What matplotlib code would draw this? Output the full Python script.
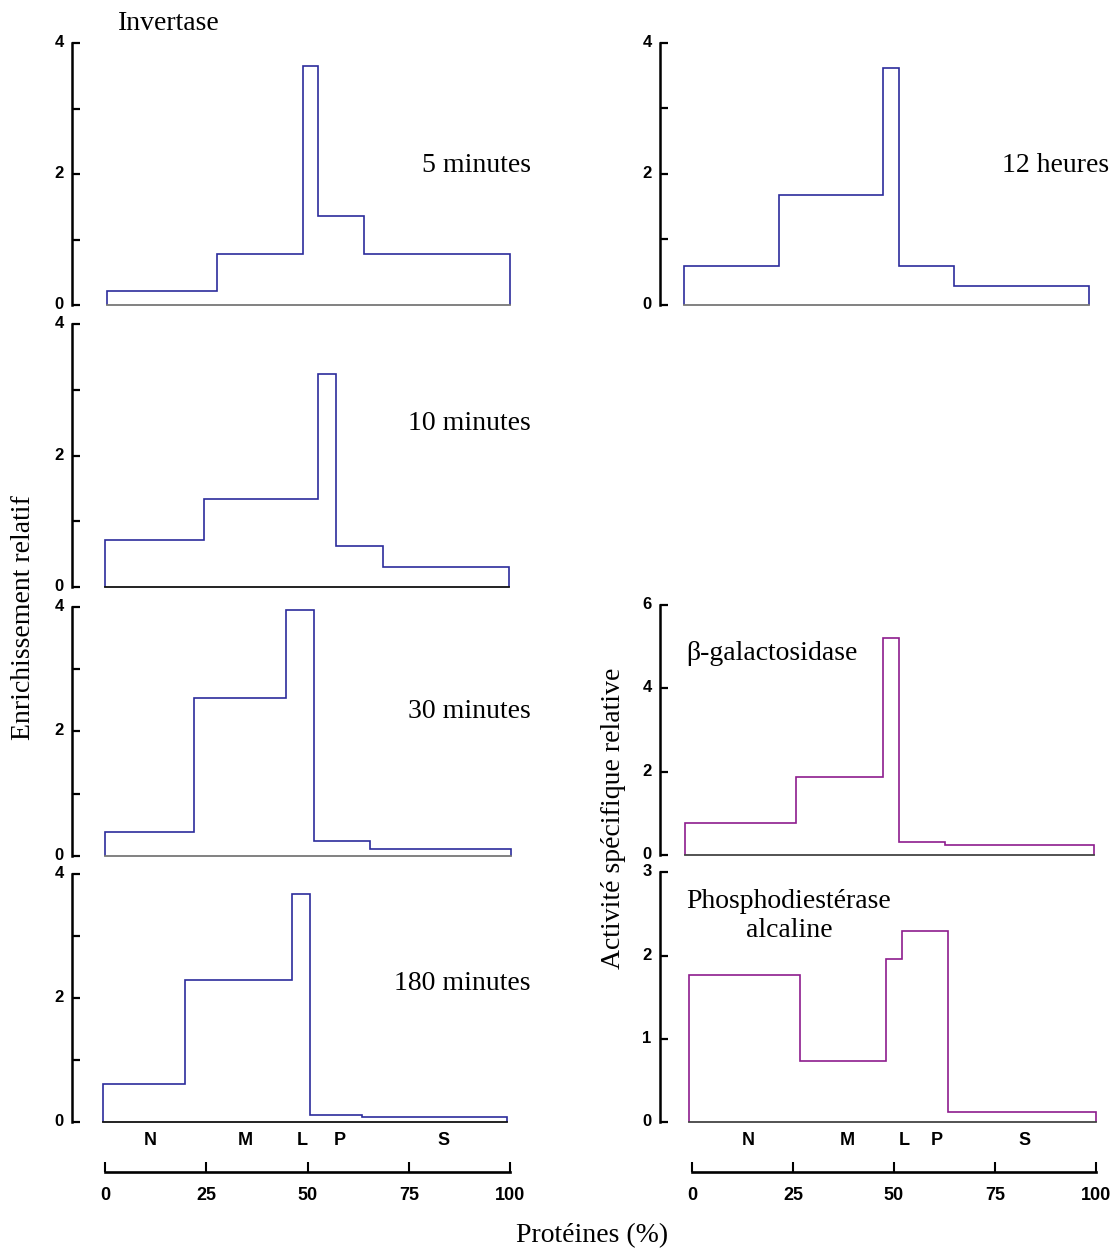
import matplotlib
matplotlib.use('Agg')
import matplotlib.pyplot as plt
from matplotlib.transforms import ScaledTranslation

W, H = 1117, 1249

# invertase, left column (edges in % protein, values = relative enrichment)
edges_5min = [0.5, 27.7, 48.9, 52.6, 63.9, 100]
vals_5min = [0.22, 0.78, 3.65, 1.36, 0.78]
edges_10min = [0, 24.4, 52.6, 57.0, 68.6, 99.8]
vals_10min = [0.71, 1.34, 3.24, 0.62, 0.30]
edges_30min = [0, 22.0, 44.7, 51.6, 65.4, 100.2]
vals_30min = [0.38, 2.54, 3.95, 0.24, 0.10]
edges_180min = [-0.5, 19.8, 46.2, 50.6, 63.5, 99.3]
vals_180min = [0.61, 2.29, 3.68, 0.11, 0.085]

# right column
edges_12h = [-2.0, 21.5, 47.3, 51.2, 64.9, 98.3]
vals_12h = [0.59, 1.68, 3.61, 0.59, 0.29]
edges_bgal = [-1.7, 25.7, 47.3, 51.2, 62.6, 99.5]
vals_bgal = [0.77, 1.88, 5.20, 0.30, 0.24]
edges_pde = [-0.7, 26.7, 48.0, 52.0, 63.4, 100]
vals_pde = [1.77, 0.73, 1.96, 2.29, 0.12]

fractions = ['N', 'M', 'L', 'P', 'S']
frac_pos_left = [11.1, 34.6, 48.6, 58.0, 83.7]
frac_pos_right = [13.9, 38.4, 52.5, 60.6, 82.4]
xticks = [0, 25, 50, 75, 100]

BLUE = '#2c2c9c'
PURPLE = '#8e1c8e'
SERIF = 'Liberation Serif'
SANS = 'Liberation Sans'


def px_axes(fig, left, right, top, bottom):
    return fig.add_axes([left / W, 1 - bottom / H, (right - left) / W, (bottom - top) / H])


def panel(fig, col, top, bottom, edges, vals, ymax, color, major, minor, base_col):
    if col == 0:
        spine, x0, x100 = 72, 105, 510
    else:
        spine, x0, x100 = 660, 692, 1096
    ax = px_axes(fig, spine, x100, top, bottom)
    scale = (x100 - x0) / 100
    ax.set_xlim(-(x0 - spine) / scale, 100)
    ax.set_ylim(0, ymax)
    ax.stairs(vals, edges, baseline=0, color=color, lw=1.2, clip_on=False)
    ax.plot([edges[0], edges[-1]], [0, 0], color=base_col, lw=1.3, clip_on=False)
    for s in ['top', 'right', 'bottom']:
        ax.spines[s].set_visible(False)
    ax.spines['left'].set_linewidth(1.8)
    ax.spines['left'].set_bounds(0, ymax)
    ax.set_xticks([])
    ax.set_yticks(major)
    ax.set_yticks(minor, minor=True)
    ax.tick_params(axis='y', which='both', direction='in', length=6, width=1.6, pad=6)
    ax.set_yticklabels([str(v) for v in major], fontfamily=SANS, fontweight='bold', fontsize=12)
    # labels sit a touch above their ticks in the original
    shift = ScaledTranslation(0, 2 / 100, fig.dpi_scale_trans)
    for lab in ax.get_yticklabels():
        lab.set_transform(lab.get_transform() + shift)
    ax.patch.set_alpha(0)
    return ax


def bottom_axis(fig, x0, x100):
    ax = px_axes(fig, x0, x100, 1150, 1172)
    ax.set_xlim(0, 100)
    for s in ['top', 'right', 'left']:
        ax.spines[s].set_visible(False)
    ax.spines['bottom'].set_linewidth(1.9)
    ax.set_yticks([])
    ax.set_xticks(xticks)
    ax.tick_params(axis='x', direction='in', length=7, width=1.5, pad=11)
    ax.set_xticklabels([str(v) for v in xticks], fontweight='bold', fontsize=13,
                       fontfamily=['Liberation Sans Narrow', SANS])
    ax.patch.set_alpha(0)


def ftext(fig, x, y, s, **kw):
    kw.setdefault('fontfamily', SERIF)
    kw.setdefault('fontsize', 20)
    fig.text(x / W, 1 - y / H, s, **kw)


fig = plt.figure(figsize=(W / 100, H / 100), dpi=100)

panel(fig, 0, 43, 305, edges_5min, vals_5min, 4, BLUE, [0, 2, 4], [1, 3], '#777777')
panel(fig, 0, 324, 587, edges_10min, vals_10min, 4, BLUE, [0, 2, 4], [1, 3], '#111111')
panel(fig, 0, 607, 855.7, edges_30min, vals_30min, 4, BLUE, [0, 2, 4], [1, 3], '#777777')
ax180 = panel(fig, 0, 874, 1122.3, edges_180min, vals_180min, 4, BLUE, [0, 2, 4], [1, 3], '#111111')

panel(fig, 1, 42.7, 305, edges_12h, vals_12h, 4, BLUE, [0, 2, 4], [1, 3], '#777777')
panel(fig, 1, 604.7, 855, edges_bgal, vals_bgal, 6, PURPLE, [0, 2, 4, 6], [], '#444444')
axpde = panel(fig, 1, 872.3, 1122.3, edges_pde, vals_pde, 3, PURPLE, [0, 1, 2, 3], [], '#444444')

for ax, pos, y in [(ax180, frac_pos_left, -0.29), (axpde, frac_pos_right, -0.22)]:
    for lab, x in zip(fractions, pos):
        ax.text(x, y, lab, ha='center', va='center', fontfamily=SANS,
                fontweight='bold', fontsize=13, clip_on=False)

bottom_axis(fig, 105, 510)
bottom_axis(fig, 692, 1096)

ftext(fig, 118, 23, 'Invertase', ha='left', va='center')
ftext(fig, 531, 165, '5 minutes', ha='right', va='center')
ftext(fig, 531, 424, '10 minutes', ha='right', va='center')
ftext(fig, 531, 711, '30 minutes', ha='right', va='center')
ftext(fig, 531, 984, '180 minutes', ha='right', va='center')
ftext(fig, 1109, 165, '12 heures', ha='right', va='center')
ftext(fig, 686, 653, 'β-galactosidase', ha='left', va='center')
ftext(fig, 789, 916, 'Phosphodiestérase\nalcaline', ha='center', va='center',
      multialignment='center', linespacing=1.2)

ftext(fig, 24, 618, 'Enrichissement relatif', rotation=90, ha='center', va='center')
ftext(fig, 614, 818, 'Activité spécifique relative', rotation=90, ha='center', va='center')
ftext(fig, 592, 1236, 'Protéines (%)', ha='center', va='center')

fig.savefig('out.png', dpi=100)
